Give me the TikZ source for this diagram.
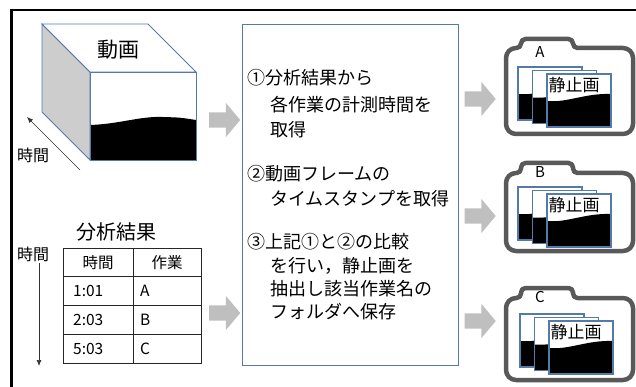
\documentclass[tikz,border=0pt]{standalone}
\usepackage{fontspec}
\setmainfont{Noto Sans CJK JP}
\usetikzlibrary{arrows.meta,shapes.arrows}
\definecolor{edgeblue}{RGB}{84,122,170}
\definecolor{arrowgray}{RGB}{191,191,191}
\definecolor{foldergray}{RGB}{89,89,89}
\definecolor{sidegray}{RGB}{205,205,205}
\newcommand\fsz[1]{\fontsize{#1}{#1}\selectfont}

% folder outline: #1 tab top, #2 body top, #3 bottom
\newcommand\drawfolder[3]{%
  \draw[foldergray, line width=4.5pt, line join=round]
    (570,#3) [rounded corners=10pt] -- (506,#3) -- (506,#2)
    [rounded corners=4.5pt] -- (521,#2) -- (521,#1) -- (573,#1) -- (573,#2)
    [rounded corners=10pt] -- (633,#2) -- (633,#3) -- cycle;}

\tikzset{
  txt/.style={inner sep=0pt},
  midline/.style={txt, anchor=west, font=\fsz{18}},
  celltxt/.style={txt, font=\fsz{15.5}},
  grayarrow/.style={single arrow, fill=arrowgray, draw=none, minimum height=31pt,
    inner sep=7.5pt, single arrow head extend=9.5pt, single arrow tip angle=100},
  timearrow/.style={draw=black!80, line width=0.7pt, -{Latex[length=6pt,width=5pt]}},
  stillpic/.pic={
    \fill[white] (0,0) rectangle (64,53);
    \fill[black] (0,27) .. controls (20,29) and (38,19) .. (64,20) -- (64,53) -- (0,53) -- cycle;
    \draw[edgeblue, line width=1.1pt] (0,0) rectangle (64,53);
  },
  stillset/.pic={
    \pic at (0,0) {stillpic};
    \pic at (14.5,3.5) {stillpic};
    \pic at (29,7) {stillpic};
    \node[txt, font=\fsz{17}] (-lbl) at (56,18) {静止画};
  }
}

\begin{document}
\begin{tikzpicture}[x=1pt,y=-1pt]
\useasboundingbox (0,0) rectangle (636,387);

% outer frame (left and top edges)
\draw[black, line width=2.4pt] (11.3,387) -- (11.3,10.2) -- (636,10.2);

% video cube
\filldraw[fill=sidegray, draw=edgeblue, line width=0.9pt] (42,24) -- (90,72) -- (90,160) -- (42,112) -- cycle;
\filldraw[fill=white, draw=edgeblue, line width=0.9pt] (42,24) -- (148,24) -- (196,72) -- (90,72) -- cycle;
\fill[white] (90,72) rectangle (196,160);
\fill[black] (90,125) .. controls (120,124) and (140,116) .. (163,117)
  .. controls (180,117.5) .. (196,120) -- (196,160) -- (90,160) -- cycle;
\draw[edgeblue, line width=0.9pt] (90,72) rectangle (196,160);
\node[txt, font=\fsz{21}] (video) at (118,50) {動画};

% time axis of the cube
\coordinate (ctail) at (80,170);
\coordinate (chead) at (27,117);
\draw[timearrow] (ctail) -- (chead);
\node[txt, font=\fsz{16}] (ctime) at (33,155) {時間};

% analysis result table
\node[txt, font=\fsz{20}] (restitle) at (116,232) {分析結果};
\draw[black!85, line width=0.8pt] (63,248) rectangle (201,363);
\draw[black!85, line width=0.8pt] (63,276.75) -- (201,276.75) (63,305.5) -- (201,305.5)
  (63,334.25) -- (201,334.25) (133,248) -- (133,363);
\node[celltxt] (h1) at (98,262.4) {時間};
\node[celltxt] (h2) at (167,262.4) {作業};
\node[celltxt, anchor=west] (r1a) at (73,291.1) {1:01};
\node[celltxt, anchor=west] (r1b) at (140,291.1) {A};
\node[celltxt, anchor=west] (r2a) at (73,319.9) {2:03};
\node[celltxt, anchor=west] (r2b) at (140,319.9) {B};
\node[celltxt, anchor=west] (r3a) at (73,348.6) {5:03};
\node[celltxt, anchor=west] (r3b) at (140,348.6) {C};

% time axis of the table
\node[txt, font=\fsz{16}] (ttime) at (33,254) {時間};
\coordinate (ttail) at (39,263);
\coordinate (thead) at (39,366);
\draw[timearrow] (ttail) -- (thead);

% processing box
\node[draw=edgeblue, line width=0.9pt, minimum width=216pt, minimum height=341pt, inner sep=0pt]
  (proc) at (350,194.5) {};
\node[midline] (s1a) at (247,78) {①分析結果から};
\node[midline] (s1b) at (270,105) {各作業の計測時間を};
\node[midline] (s1c) at (270,130) {取得};
\node[midline] (s2a) at (247,174) {②動画フレームの};
\node[midline] (s2b) at (270,199) {タイムスタンプを取得};
\node[midline] (s3a) at (247,242) {③上記①と②の比較};
\node[midline] (s3b) at (270,266) {を行い，静止画を};
\node[midline] (s3c) at (270,289) {抽出し該当作業名の};
\node[midline] (s3d) at (270,312) {フォルダへ保存};

% block arrows
\node[grayarrow] (ga1) at (221.5,120) {};
\node[grayarrow] (ga2) at (221.5,313) {};
\node[grayarrow] (ga3) at (477,99) {};
\node[grayarrow] (ga4) at (477,216) {};
\node[grayarrow] (ga5) at (477,321) {};

% folders with still images
\drawfolder{39}{48}{134}
\node[txt, font=\fsz{15}] (fa) at (540,52) {A};
\pic (sa) at (518,67) {stillset};

\drawfolder{163}{173}{251}
\node[txt, font=\fsz{15}] (fb) at (540,172) {B};
\pic (sb) at (518,187) {stillset};

\drawfolder{288}{298}{380}
\node[txt, font=\fsz{15}] (fc) at (540,297) {C};
\pic (sc) at (520,314) {stillset};
\end{tikzpicture}
\end{document}
